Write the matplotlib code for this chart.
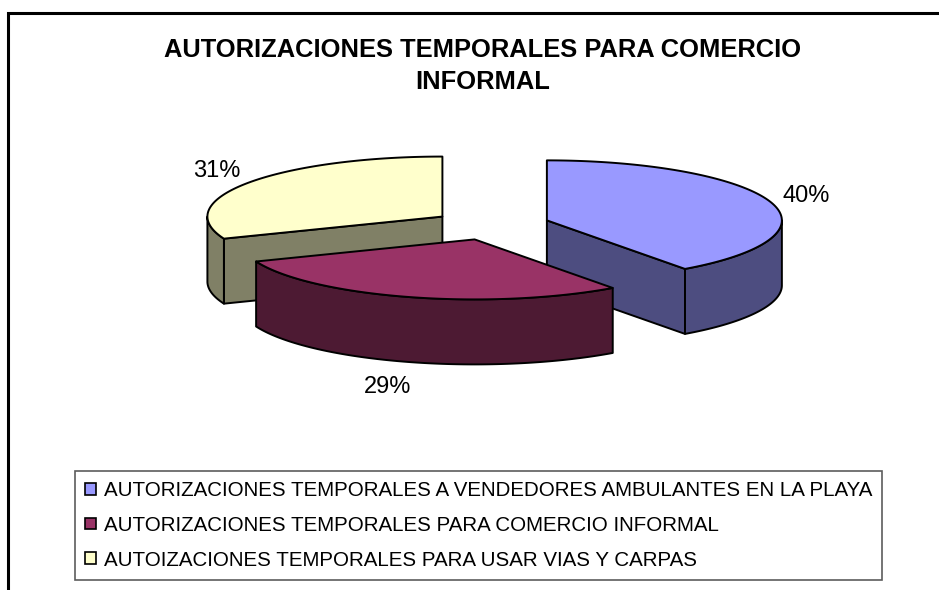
import numpy as np
import matplotlib
matplotlib.use("Agg")
import matplotlib.pyplot as plt
from matplotlib.patches import Polygon, Rectangle
from matplotlib.lines import Line2D

# ---------------- data ----------------
title = "AUTORIZACIONES TEMPORALES PARA COMERCIO\nINFORMAL"
categories = [
    "AUTORIZACIONES TEMPORALES A VENDEDORES AMBULANTES EN LA PLAYA",
    "AUTORIZACIONES TEMPORALES PARA COMERCIO INFORMAL",
    "AUTOIZACIONES TEMPORALES PARA USAR VIAS Y CARPAS",
]
values = [40, 29, 31]
top_colors = ["#9999FF", "#993366", "#FFFFCC"]
side_colors = ["#4D4D80", "#4D1A33", "#808066"]

# ---------------- layout (pixels) ----------------
W, H = 939, 590
CX, CY = 491.0, 225.0      # pie centre
RX, RY = 235.0, 60.0       # ellipse radii
DEPTH = 65.0               # thickness
EXPLODE = 0.25             # fraction of radius
LDX, LDY = 38.0, 24.0      # label offsets

fig = plt.figure(figsize=(W / 100, H / 100), dpi=100)
ax = fig.add_axes([0, 0, 1, 1])
ax.set_xlim(0, W)
ax.set_ylim(H, 0)
ax.axis("off")

total = float(sum(values))
fracs = [v / total for v in values]
starts = np.concatenate([[0.0], np.cumsum(fracs)[:-1]]) * 360.0
ends = np.cumsum(fracs) * 360.0


def pt(cx, cy, t, dz=0.0):
    r = np.radians(t)
    return cx + RX * np.sin(r), cy - RY * np.cos(r) + dz


def arc(cx, cy, t0, t1, dz=0.0, n=120):
    ts = np.linspace(t0, t1, n)
    r = np.radians(ts)
    return np.column_stack([cx + RX * np.sin(r), cy - RY * np.cos(r) + dz])


slices = []
for i, (s, e) in enumerate(zip(starts, ends)):
    mid = np.radians((s + e) / 2)
    cx = CX + EXPLODE * RX * np.sin(mid)
    cy = CY - EXPLODE * RY * np.cos(mid)
    slices.append((cy, i, s, e, cx))

edge_kw = dict(edgecolor="black", linewidth=1.4, joinstyle="round")

for cy, i, s, e, cx in sorted(slices):
    side = side_colors[i]
    # start cut face
    if np.sin(np.radians(s)) < -1e-6:
        x1, y1 = pt(cx, cy, s)
        ax.add_patch(Polygon([(cx, cy), (x1, y1), (x1, y1 + DEPTH), (cx, cy + DEPTH)],
                             closed=True, facecolor=side, **edge_kw))
    # end cut face
    if np.sin(np.radians(e)) > 1e-6:
        x1, y1 = pt(cx, cy, e)
        ax.add_patch(Polygon([(cx, cy), (x1, y1), (x1, y1 + DEPTH), (cx, cy + DEPTH)],
                             closed=True, facecolor=side, **edge_kw))
    # outer wall (front half only)
    w0, w1 = max(s, 90.0), min(e, 270.0)
    if w1 > w0:
        upper = arc(cx, cy, w0, w1)
        lower = arc(cx, cy, w0, w1, DEPTH)[::-1]
        ax.add_patch(Polygon(np.vstack([upper, lower]), closed=True,
                             facecolor=side, **edge_kw))
    # top face
    top = np.vstack([[cx, cy], arc(cx, cy, s, e)])
    ax.add_patch(Polygon(top, closed=True, facecolor=top_colors[i], **edge_kw))

    # percentage label
    mid = (s + e) / 2
    rm = np.radians(mid)
    lx, ly = pt(cx, cy, mid)
    if np.cos(rm) < 0:
        ly += DEPTH
        lx += np.sin(rm) * 40
    lx += np.sin(rm) * LDX
    ly += -np.cos(rm) * LDY
    ax.text(lx, ly + 2, f"{values[i] / total * 100:.0f}%", ha="center", va="center",
            fontsize=17, family="Liberation Sans", color="black")

# title
ax.text(483, 66, title, ha="center", va="center", fontsize=18.4, fontweight="bold",
        family="Liberation Sans", linespacing=1.45)

# outer frame (top & left visible)
ax.add_line(Line2D([8, 8, W], [H, 13, 13], color="black", linewidth=2.2,
                   solid_joinstyle="miter"))

# legend
handles = [Rectangle((0, 0), 1, 1, facecolor=c, edgecolor="black", linewidth=1.2)
           for c in top_colors]
leg = ax.legend(handles, categories, loc="upper left",
                bbox_to_anchor=(75 / W, 1 - 471 / H),
                prop={"family": "Liberation Sans", "size": 14.8},
                frameon=True, fancybox=False, edgecolor="#333333",
                handlelength=0.5, handleheight=0.5, handletextpad=0.4,
                labelspacing=0.76, borderpad=0.5, borderaxespad=0)
leg.get_frame().set_linewidth(1.2)

fig.savefig("out.png", dpi=100)
